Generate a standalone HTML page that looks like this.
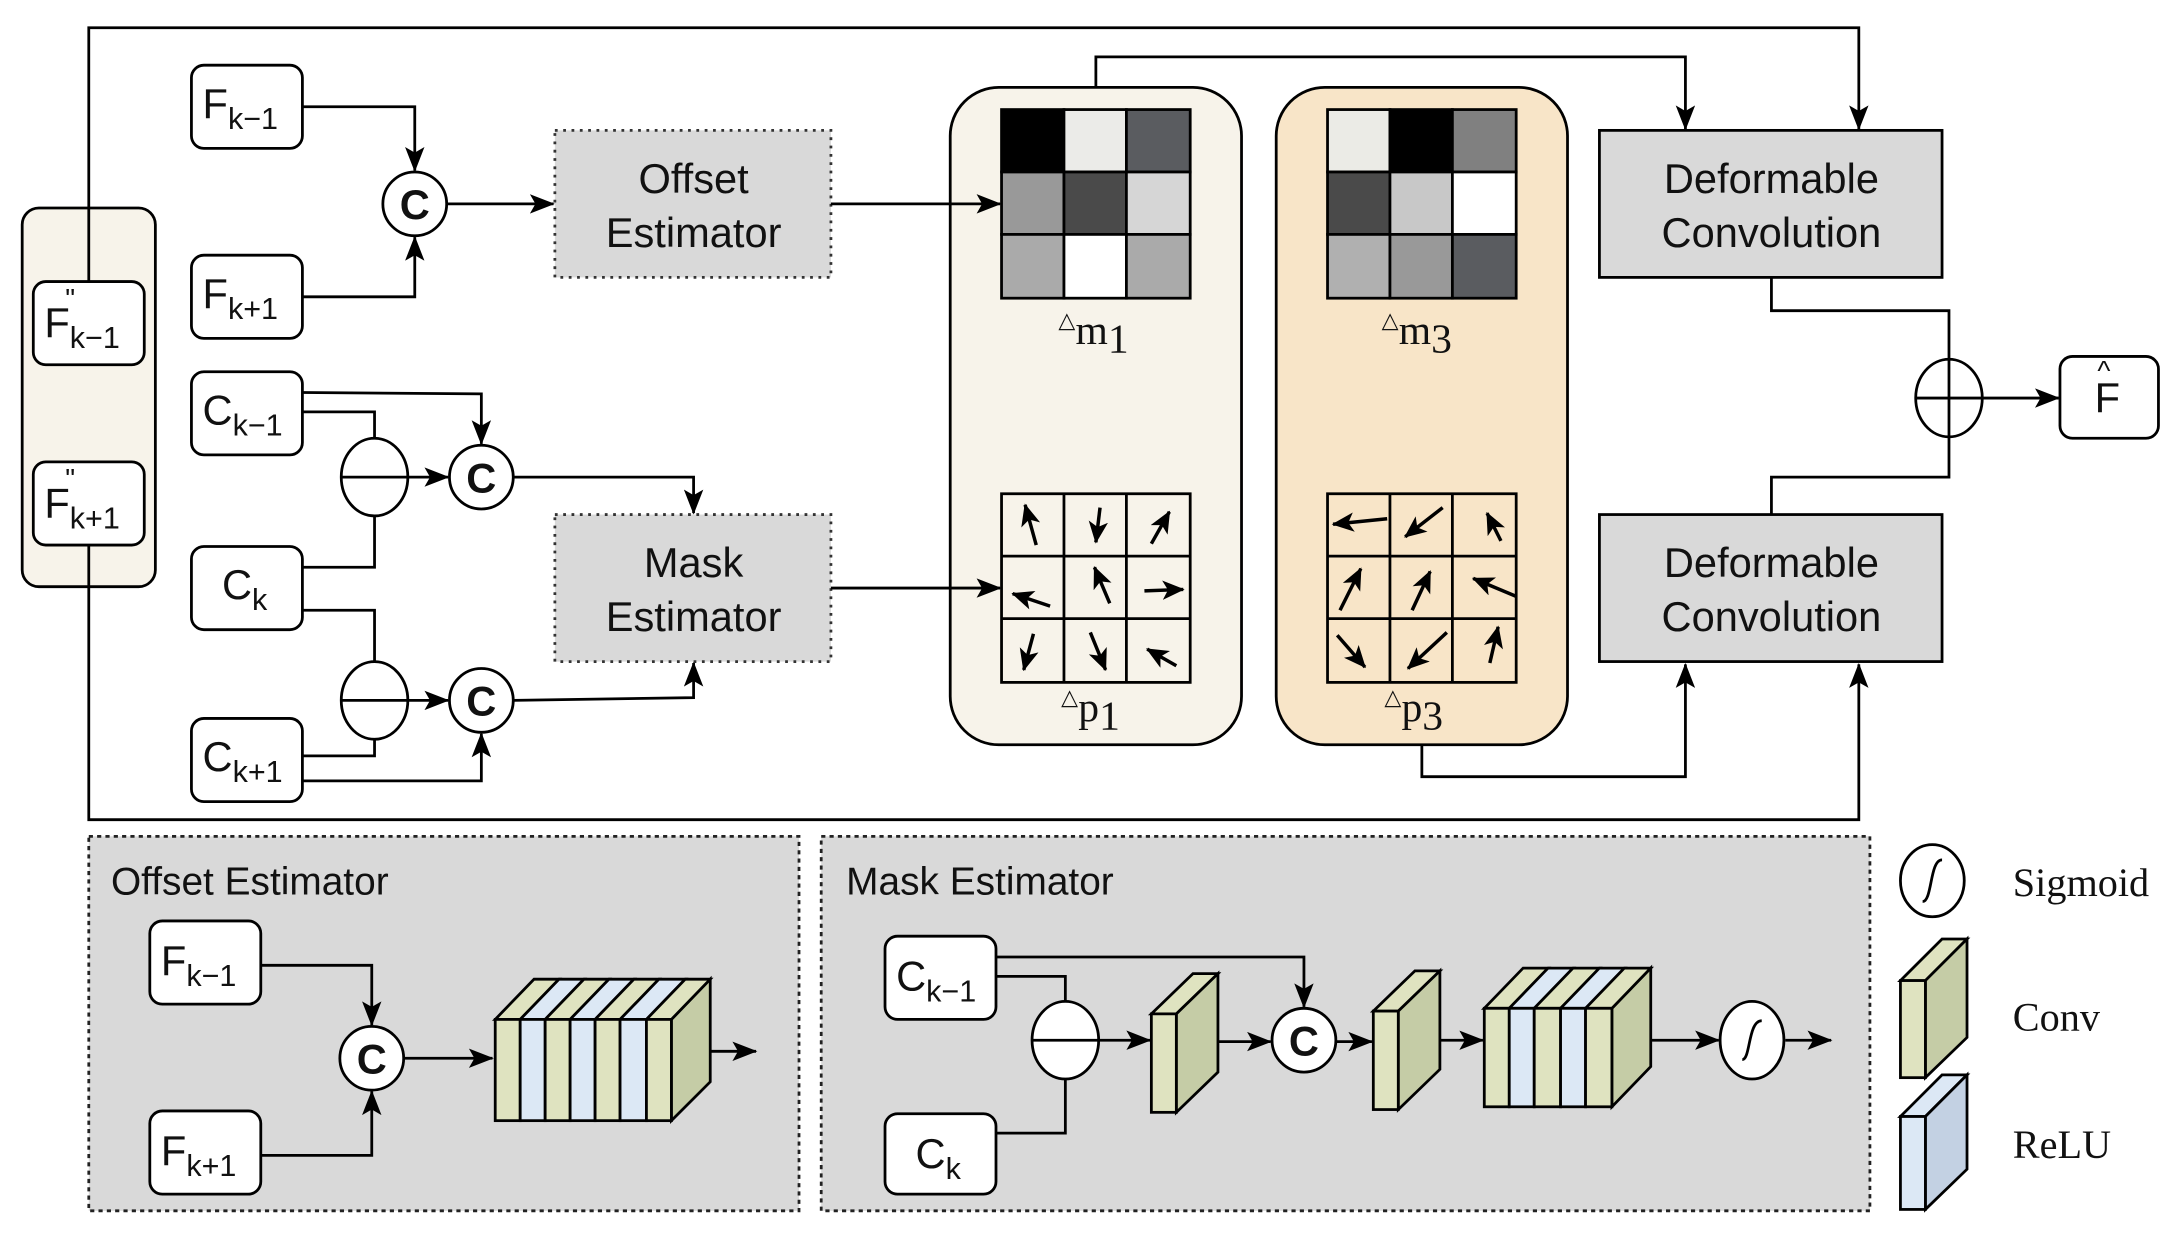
<!DOCTYPE html>
<html><head><meta charset="utf-8"><style>
html,body{margin:0;padding:0;background:#fff;}
svg{display:block;}
text{font-family:"Liberation Sans",sans-serif;fill:#111;}
.serif{font-family:"Liberation Serif",serif;}
</style></head><body>
<svg width="2164" height="1233" viewBox="0 0 1560 889" preserveAspectRatio="none" xmlns="http://www.w3.org/2000/svg">
<defs>
<marker id="a" markerUnits="userSpaceOnUse" markerWidth="18" markerHeight="14" refX="17" refY="7" orient="auto"><path d="M0,0 L18,7 L0,14 L4,7 z" fill="#000"/></marker>
<marker id="g" markerUnits="userSpaceOnUse" markerWidth="16" markerHeight="14" refX="15" refY="7" orient="auto"><path d="M0,0 L16,7 L0,14 L4,7 z" fill="#000"/></marker>
</defs>
<g fill="none" stroke="#000" stroke-width="2">
<polyline points="64,203 64,20 1340,20 1340,93" marker-end="url(#a)"/>
<polyline points="64,393 64,591 1340,591 1340,479" marker-end="url(#a)"/>
</g>
<rect x="16" y="150" width="96" height="273" rx="12" fill="#f7f3ea" stroke="#000" stroke-width="2"/>
<line x1="64" y1="150" x2="64" y2="203" stroke="#000" stroke-width="2"/>
<line x1="64" y1="393" x2="64" y2="423" stroke="#000" stroke-width="2"/>
<g fill="#fff" stroke="#000" stroke-width="2">
<rect x="24" y="203" width="80" height="60" rx="9"/>
<rect x="24" y="333" width="80" height="60" rx="9"/>
<rect x="138" y="47" width="80" height="60" rx="9"/>
<rect x="138" y="184" width="80" height="60" rx="9"/>
<rect x="138" y="268" width="80" height="60" rx="9"/>
<rect x="138" y="394" width="80" height="60" rx="9"/>
<rect x="138" y="518" width="80" height="60" rx="9"/>
<rect x="1485" y="257" width="71" height="59" rx="9"/>
</g>
<g font-size="30">
<text x="32" y="243">F<tspan font-size="22" dy="8">k−1</tspan></text>
<text x="47" y="222" font-size="20">"</text>
<text x="32" y="373">F<tspan font-size="22" dy="8">k+1</tspan></text>
<text x="47" y="352" font-size="20">"</text>
<text x="146" y="85">F<tspan font-size="22" dy="8">k−1</tspan></text>
<text x="146" y="222">F<tspan font-size="22" dy="8">k+1</tspan></text>
<text x="146" y="306">C<tspan font-size="22" dy="8">k−1</tspan></text>
<text x="160" y="432">C<tspan font-size="22" dy="8">k</tspan></text>
<text x="146" y="556">C<tspan font-size="22" dy="8">k+1</tspan></text>
<text x="1510" y="297">F</text>
<text x="1512" y="274" font-size="20">^</text>
</g>
<g fill="none" stroke="#000" stroke-width="2">
<polyline points="218,77 299,77 299,123" marker-end="url(#a)"/>
<polyline points="218,214 299,214 299,171" marker-end="url(#a)"/>
<line x1="322" y1="147" x2="399" y2="147" marker-end="url(#a)"/>
<polyline points="218,283 347,284 347,320" marker-end="url(#a)"/>
<polyline points="218,297 270,297 270,316"/>
<polyline points="218,409 270,409 270,372"/>
<line x1="246" y1="344" x2="323" y2="344" marker-end="url(#a)"/>
<polyline points="370,344 500,344 500,370" marker-end="url(#a)"/>
<polyline points="218,440 270,440 270,477"/>
<polyline points="218,545 270,545 270,533"/>
<line x1="246" y1="505" x2="323" y2="505" marker-end="url(#a)"/>
<polyline points="218,563 347,563 347,529" marker-end="url(#a)"/>
<polyline points="370,505 500,503 500,478" marker-end="url(#a)"/>
</g>
<g fill="#fff" stroke="#000" stroke-width="2">
<circle cx="299" cy="147" r="23"/>
<circle cx="347" cy="344" r="23"/>
<circle cx="347" cy="505" r="23"/>
<ellipse cx="270" cy="344" rx="24" ry="28"/>
<ellipse cx="270" cy="505" rx="24" ry="28"/>
</g>
<line x1="246" y1="344" x2="294" y2="344" stroke="#000" stroke-width="2"/>
<line x1="246" y1="505" x2="294" y2="505" stroke="#000" stroke-width="2"/>
<g font-size="30" font-weight="bold" text-anchor="middle">
<text x="299" y="158">C</text><text x="347" y="355">C</text><text x="347" y="516">C</text>
</g>
<rect x="400" y="94" width="199" height="106" fill="#d9d9d9" stroke="#333" stroke-width="2" stroke-dasharray="2,4"/>
<rect x="400" y="371" width="199" height="106" fill="#d9d9d9" stroke="#333" stroke-width="2" stroke-dasharray="2,4"/>
<g font-size="30" text-anchor="middle">
<text x="500" y="139">Offset</text><text x="500" y="178">Estimator</text>
<text x="500" y="416">Mask</text><text x="500" y="455">Estimator</text>
</g>
<polyline points="790,63 790,41 1215,41 1215,93" fill="none" stroke="#000" stroke-width="2" marker-end="url(#a)"/>
<polyline points="1025,537 1025,560 1215,560 1215,479" fill="none" stroke="#000" stroke-width="2" marker-end="url(#a)"/>
<rect x="685" y="63" width="210" height="474" rx="35" fill="#f7f3ea" stroke="#000" stroke-width="2"/>
<rect x="920" y="63" width="210" height="474" rx="35" fill="#f8e5c8" stroke="#000" stroke-width="2"/>
<g fill="none" stroke="#000" stroke-width="2">
<line x1="599" y1="147" x2="721" y2="147" marker-end="url(#a)"/>
<line x1="599" y1="424" x2="721" y2="424" marker-end="url(#a)"/>
</g>
<g stroke="#000" stroke-width="2">
<rect x="722" y="79" width="45" height="45" fill="#000"/><rect x="767" y="79" width="45" height="45" fill="#ebebe8"/><rect x="812" y="79" width="46" height="45" fill="#5a5c60"/>
<rect x="722" y="124" width="45" height="45" fill="#999"/><rect x="767" y="124" width="45" height="45" fill="#4a4a4a"/><rect x="812" y="124" width="46" height="45" fill="#d6d6d6"/>
<rect x="722" y="169" width="45" height="46" fill="#aaa"/><rect x="767" y="169" width="45" height="46" fill="#fff"/><rect x="812" y="169" width="46" height="46" fill="#aaa"/>
<rect x="957" y="79" width="45" height="45" fill="#ebebe6"/><rect x="1002" y="79" width="45" height="45" fill="#000"/><rect x="1047" y="79" width="46" height="45" fill="#808080"/>
<rect x="957" y="124" width="45" height="45" fill="#4a4a4a"/><rect x="1002" y="124" width="45" height="45" fill="#c8c8c8"/><rect x="1047" y="124" width="46" height="45" fill="#fff"/>
<rect x="957" y="169" width="45" height="46" fill="#b0b0b0"/><rect x="1002" y="169" width="45" height="46" fill="#999"/><rect x="1047" y="169" width="46" height="46" fill="#5a5c60"/>
</g>
<g fill="none" stroke="#000" stroke-width="2">
<rect x="722" y="356" width="136" height="136"/>
<line x1="767" y1="356" x2="767" y2="492"/><line x1="812" y1="356" x2="812" y2="492"/>
<line x1="722" y1="401" x2="858" y2="401"/><line x1="722" y1="446" x2="858" y2="446"/>
<rect x="957" y="356" width="136" height="136"/>
<line x1="1002" y1="356" x2="1002" y2="492"/><line x1="1047" y1="356" x2="1047" y2="492"/>
<line x1="957" y1="401" x2="1093" y2="401"/><line x1="957" y1="446" x2="1093" y2="446"/>
</g>
<g fill="none" stroke="#000" stroke-width="2.5" marker-end="url(#g)">
<line x1="747" y1="393" x2="739" y2="364"/><line x1="793" y1="366" x2="790" y2="391"/><line x1="830" y1="392" x2="843" y2="369"/>
<line x1="757" y1="437" x2="730" y2="428"/><line x1="800" y1="435" x2="789" y2="409"/><line x1="825" y1="426" x2="853" y2="425"/>
<line x1="745" y1="457" x2="738" y2="483"/><line x1="786" y1="456" x2="797" y2="483"/><line x1="848" y1="480" x2="827" y2="468"/>
<line x1="1000" y1="374" x2="961" y2="378"/><line x1="1040" y1="366" x2="1013" y2="387"/><line x1="1082" y1="390" x2="1072" y2="370"/>
<line x1="966" y1="440" x2="981" y2="410"/><line x1="1018" y1="440" x2="1031" y2="412"/><line x1="1093" y1="430" x2="1062" y2="417"/>
<line x1="964" y1="458" x2="984" y2="481"/><line x1="1043" y1="456" x2="1015" y2="482"/><line x1="1074" y1="478" x2="1080" y2="452"/>
</g>
<g class="serif" font-size="30">
<text x="763" y="248" class="serif"><tspan font-size="16" dy="-12">△</tspan><tspan dy="12">m</tspan><tspan dy="6">1</tspan></text>
<text x="996" y="248" class="serif"><tspan font-size="16" dy="-12">△</tspan><tspan dy="12">m</tspan><tspan dy="6">3</tspan></text>
<text x="765" y="520" class="serif"><tspan font-size="16" dy="-12">△</tspan><tspan dy="12">p</tspan><tspan dy="6">1</tspan></text>
<text x="998" y="520" class="serif"><tspan font-size="16" dy="-12">△</tspan><tspan dy="12">p</tspan><tspan dy="6">3</tspan></text>
</g>
<rect x="1153" y="94" width="247" height="106" fill="#d9d9d9" stroke="#000" stroke-width="2"/>
<rect x="1153" y="371" width="247" height="106" fill="#d9d9d9" stroke="#000" stroke-width="2"/>
<g font-size="30" text-anchor="middle">
<text x="1277" y="139">Deformable</text><text x="1277" y="178">Convolution</text>
<text x="1277" y="416">Deformable</text><text x="1277" y="455">Convolution</text>
</g>
<g fill="none" stroke="#000" stroke-width="2">
<polyline points="1277,200 1277,224 1405,224 1405,344 1277,344 1277,371"/>
<ellipse cx="1405" cy="287" rx="24" ry="28" fill="#fff"/>
<line x1="1405" y1="259" x2="1405" y2="315"/><line x1="1381" y1="287" x2="1429" y2="287"/>
<line x1="1429" y1="287" x2="1484" y2="287" marker-end="url(#a)"/>
</g>
<rect x="64" y="603" width="512" height="270" fill="#d9d9d9" stroke="#222" stroke-width="2" stroke-dasharray="3,3"/>
<rect x="592" y="603" width="756" height="270" fill="#d9d9d9" stroke="#222" stroke-width="2" stroke-dasharray="3,3"/>
<text x="80" y="645" font-size="28">Offset Estimator</text>
<text x="610" y="645" font-size="28">Mask Estimator</text>
<g fill="#fff" stroke="#000" stroke-width="2">
<rect x="108" y="664" width="80" height="60" rx="9"/>
<rect x="108" y="801" width="80" height="60" rx="9"/>
<rect x="638" y="675" width="80" height="60" rx="9"/>
<rect x="638" y="803" width="80" height="58" rx="9"/>
</g>
<g font-size="30">
<text x="116" y="703">F<tspan font-size="22" dy="8">k−1</tspan></text>
<text x="116" y="840">F<tspan font-size="22" dy="8">k+1</tspan></text>
<text x="646" y="714">C<tspan font-size="22" dy="8">k−1</tspan></text>
<text x="660" y="842">C<tspan font-size="22" dy="8">k</tspan></text>
</g>
<g fill="none" stroke="#000" stroke-width="2">
<polyline points="188,696 268,696 268,739" marker-end="url(#a)"/>
<polyline points="188,833 268,833 268,787" marker-end="url(#a)"/>
<line x1="291" y1="763" x2="355" y2="763" marker-end="url(#a)"/>
<line x1="498" y1="758" x2="545" y2="758" marker-end="url(#a)"/>
<polyline points="718,690 940,690 940,726" marker-end="url(#a)"/>
<polyline points="718,704 768,704 768,722"/>
<polyline points="718,817 768,817 768,778"/>
<line x1="744" y1="750" x2="829" y2="750" marker-end="url(#a)"/>
<line x1="866" y1="751" x2="916" y2="751" marker-end="url(#a)"/>
<line x1="963" y1="751" x2="989" y2="751" marker-end="url(#a)"/>
<line x1="1026" y1="750" x2="1069" y2="750" marker-end="url(#a)"/>
<line x1="1176" y1="750" x2="1239" y2="750" marker-end="url(#a)"/>
<line x1="1287" y1="750" x2="1320" y2="750" marker-end="url(#a)"/>
</g>
<g fill="#fff" stroke="#000" stroke-width="2">
<circle cx="268" cy="763" r="23"/>
<circle cx="940" cy="750" r="23"/>
<ellipse cx="768" cy="750" rx="24" ry="28"/>
<ellipse cx="1263" cy="750" rx="23" ry="28"/>
<ellipse cx="1393" cy="635" rx="23" ry="26"/>
</g>
<line x1="744" y1="750" x2="792" y2="750" stroke="#000" stroke-width="2"/>
<path d="M1256,764 C1262,764 1260,736 1270,736" fill="none" stroke="#000" stroke-width="2"/>
<path d="M1386,650 C1393,650 1391,620 1400,620" fill="none" stroke="#000" stroke-width="2"/>
<g font-size="30" font-weight="bold" text-anchor="middle">
<text x="268" y="774">C</text><text x="940" y="761">C</text>
</g>
<g stroke="#000" stroke-width="2">
<polygon points="484,735 512,706 512,780 484,808" fill="#c5cca6"/>
<polygon points="357,735 385,706 403,706 375,735" fill="#dfe3c0"/>
<polygon points="375,735 403,706 421,706 393,735" fill="#dce8f5"/>
<polygon points="393,735 421,706 439,706 411,735" fill="#dfe3c0"/>
<polygon points="411,735 439,706 457,706 429,735" fill="#dce8f5"/>
<polygon points="429,735 457,706 475,706 447,735" fill="#dfe3c0"/>
<polygon points="447,735 475,706 494,706 466,735" fill="#dce8f5"/>
<polygon points="466,735 494,706 512,706 484,735" fill="#dfe3c0"/>
<rect x="357" y="735" width="18" height="73" fill="#dfe3c0"/>
<rect x="375" y="735" width="18" height="73" fill="#dce8f5"/>
<rect x="393" y="735" width="18" height="73" fill="#dfe3c0"/>
<rect x="411" y="735" width="18" height="73" fill="#dce8f5"/>
<rect x="429" y="735" width="18" height="73" fill="#dfe3c0"/>
<rect x="447" y="735" width="19" height="73" fill="#dce8f5"/>
<rect x="466" y="735" width="18" height="73" fill="#dfe3c0"/>
<polygon points="830,731 860,702 878,702 848,731" fill="#dfe3c0"/>
<polygon points="848,731 878,702 878,773 848,802" fill="#c5cca6"/>
<rect x="830" y="731" width="18" height="71" fill="#dfe3c0"/>
<polygon points="990,729 1020,700 1038,700 1008,729" fill="#dfe3c0"/>
<polygon points="1008,729 1038,700 1038,771 1008,800" fill="#c5cca6"/>
<rect x="990" y="729" width="18" height="71" fill="#dfe3c0"/>
<polygon points="1162,727 1190,698 1190,769 1162,798" fill="#c5cca6"/>
<polygon points="1070,727 1098,698 1116,698 1088,727" fill="#dfe3c0"/>
<polygon points="1088,727 1116,698 1134,698 1106,727" fill="#dce8f5"/>
<polygon points="1106,727 1134,698 1153,698 1125,727" fill="#dfe3c0"/>
<polygon points="1125,727 1153,698 1171,698 1143,727" fill="#dce8f5"/>
<polygon points="1143,727 1171,698 1190,698 1162,727" fill="#dfe3c0"/>
<rect x="1070" y="727" width="18" height="71" fill="#dfe3c0"/>
<rect x="1088" y="727" width="18" height="71" fill="#dce8f5"/>
<rect x="1106" y="727" width="19" height="71" fill="#dfe3c0"/>
<rect x="1125" y="727" width="18" height="71" fill="#dce8f5"/>
<rect x="1143" y="727" width="19" height="71" fill="#dfe3c0"/>
<polygon points="1370,707 1400,677 1418,677 1388,707" fill="#dfe3c0"/>
<polygon points="1388,707 1418,677 1418,748 1388,777" fill="#c5cca6"/>
<rect x="1370" y="707" width="18" height="70" fill="#dfe3c0"/>
<polygon points="1370,805 1400,775 1418,775 1388,805" fill="#dce8f5"/>
<polygon points="1388,805 1418,775 1418,843 1388,872" fill="#c3d1e3"/>
<rect x="1370" y="805" width="18" height="67" fill="#dce8f5"/>
</g>
<g class="serif" font-size="29">
<text x="1451" y="646" class="serif">Sigmoid</text>
<text x="1451" y="743" class="serif">Conv</text>
<text x="1451" y="835" class="serif">ReLU</text>
</g>
</svg>
</body></html>
